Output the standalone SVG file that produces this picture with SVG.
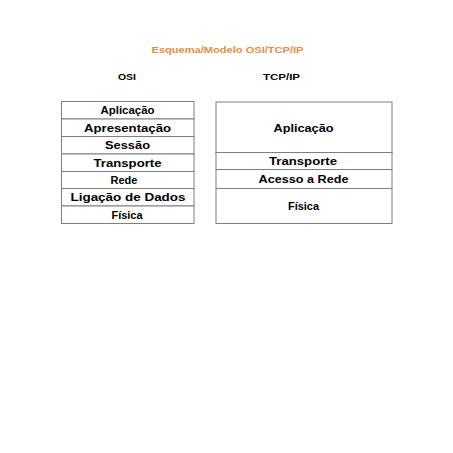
<svg xmlns="http://www.w3.org/2000/svg" width="453" height="453" viewBox="0 0 453 453">
<style>
.cell{fill:#ffffff;stroke:#7f7f7f;stroke-width:1}
.t{font-family:"Liberation Sans",Arial,sans-serif;font-weight:bold;font-size:11px;fill:#000000;text-anchor:middle}
.h{font-family:"Liberation Sans",Arial,sans-serif;font-weight:bold;font-size:9.5px;fill:#000000;text-anchor:middle}
.title{font-family:"Liberation Sans",Arial,sans-serif;font-weight:bold;font-size:9px;fill:#E98E42;text-anchor:middle}
</style>
<rect width="453" height="453" fill="#ffffff"/>
<text id="title" class="title" x="227.5" y="53" textLength="152" lengthAdjust="spacingAndGlyphs">Esquema/Modelo  OSI/TCP/IP</text>
<text id="osi-header" class="h" x="127" y="79.5" textLength="18" lengthAdjust="spacingAndGlyphs">OSI</text>
<text id="tcpip-header" class="h" x="281.5" y="79.5" textLength="37" lengthAdjust="spacingAndGlyphs">TCP/IP</text>
<g id="osi">
<g id="osi-aplicacao"><rect class="cell" x="61.5" y="101.5" width="132.5" height="17.5"/><text class="t" x="127.5" y="114" textLength="54" lengthAdjust="spacingAndGlyphs">Aplicação</text></g>
<g id="osi-apresentacao"><rect class="cell" x="61.5" y="119" width="132.5" height="17.5"/><text class="t" x="127.5" y="131.5" textLength="87" lengthAdjust="spacingAndGlyphs">Apresentação</text></g>
<g id="osi-sessao"><rect class="cell" x="61.5" y="136.5" width="132.5" height="17.5"/><text class="t" x="127.5" y="149" textLength="45" lengthAdjust="spacingAndGlyphs">Sessão</text></g>
<g id="osi-transporte"><rect class="cell" x="61.5" y="154" width="132.5" height="17.5"/><text class="t" x="127.5" y="166.5" textLength="68" lengthAdjust="spacingAndGlyphs">Transporte</text></g>
<g id="osi-rede"><rect class="cell" x="61.5" y="171.5" width="132.5" height="17"/><text class="t" x="124" y="184">Rede</text></g>
<g id="osi-ligacao"><rect class="cell" x="61.5" y="188.5" width="132.5" height="17.5"/><text class="t" x="128" y="201" textLength="115" lengthAdjust="spacingAndGlyphs">Ligação de Dados</text></g>
<g id="osi-fisica"><rect class="cell" x="61.5" y="206" width="132.5" height="17.5"/><text class="t" x="127" y="218.5">Física</text></g>
</g>
<g id="tcpip">
<g id="tcp-aplicacao"><rect class="cell" x="216" y="102" width="176" height="50.5"/><text class="t" x="303.5" y="132" textLength="60" lengthAdjust="spacingAndGlyphs">Aplicação</text></g>
<g id="tcp-transporte"><rect class="cell" x="216" y="152.5" width="176" height="17"/><text class="t" x="303" y="164.5" textLength="68" lengthAdjust="spacingAndGlyphs">Transporte</text></g>
<g id="tcp-acesso"><rect class="cell" x="216" y="169.5" width="176" height="19"/><text class="t" x="303.5" y="182.5" textLength="90" lengthAdjust="spacingAndGlyphs">Acesso a Rede</text></g>
<g id="tcp-fisica"><rect class="cell" x="216" y="188.5" width="176" height="35"/><text class="t" x="303.5" y="210">Física</text></g>
</g>
<g id="connectors"/>
</svg>
